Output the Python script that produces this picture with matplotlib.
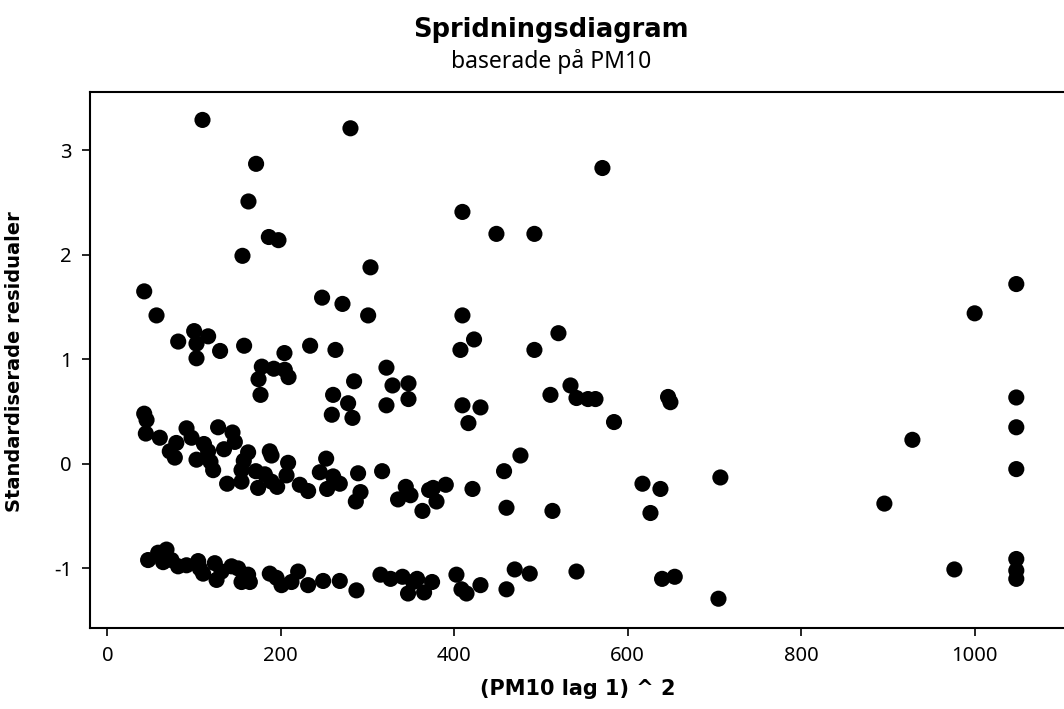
import matplotlib.pyplot as plt

# (PM10 lag 1)^2 and standardised residuals
x_upper = [109.7, 171.5, 162.7, 186.2, 197.3, 155.8, 280.3, 570.8, 409.4, 448.6, 492.4, 303.4,
           42.5, 56.7, 81.7, 100.1, 116.2, 102.8, 102.8, 130.0, 157.7, 204.2, 178.1, 191.9,
           204.6, 208.9, 174.3, 176.6, 247.6, 271.1, 233.8, 263.0, 260.3, 258.8,
           300.7, 409.4, 422.8, 407.1, 492.4, 520.1, 321.8, 284.5, 328.8, 347.2, 347.2,
           321.8, 277.6, 282.6, 409.4, 430.2, 416.3, 510.9, 534.0, 540.9, 554.2, 562.8,
           584.2, 476.3, 646.5, 649.2, 617.0, 637.7, 626.2, 706.8, 928.2, 895.9, 1000.0,
           1048.0, 1048.0, 1048.0, 1048.0]
y_upper = [3.29, 2.87, 2.51, 2.17, 2.14, 1.99, 3.21, 2.83, 2.41, 2.20, 2.20, 1.88,
           1.65, 1.42, 1.17, 1.27, 1.22, 1.15, 1.01, 1.08, 1.13, 1.06, 0.93, 0.91,
           0.90, 0.83, 0.81, 0.66, 1.59, 1.53, 1.13, 1.09, 0.66, 0.47,
           1.42, 1.42, 1.19, 1.09, 1.09, 1.25, 0.92, 0.79, 0.75, 0.77, 0.62,
           0.56, 0.58, 0.44, 0.56, 0.54, 0.39, 0.66, 0.75, 0.63, 0.62, 0.62,
           0.40, 0.08, 0.64, 0.59, -0.19, -0.24, -0.47, -0.13, 0.23, -0.38, 1.44,
           1.72, 0.635, 0.35, -0.05]

x_mid = [42.5, 45.2, 44.4, 60.5, 91.3, 97.1, 127.7, 144.3, 147.0, 79.5, 72.0, 77.8,
         111.4, 116.2, 102.8, 118.9, 122.0, 134.5, 162.3, 157.3, 154.7, 138.1, 154.7,
         187.3, 189.3, 171.2, 181.6, 173.8, 189.3, 195.8, 208.4, 206.6, 221.9, 231.5,
         252.3, 245.0, 260.3, 253.4, 289.1, 316.8, 268.0, 291.9, 286.5, 344.1, 335.2,
         349.5, 363.3, 371.0, 379.5, 375.6, 390.2, 421.0, 457.4, 460.2, 513.2]
y_mid = [0.48, 0.42, 0.29, 0.25, 0.34, 0.25, 0.35, 0.30, 0.21, 0.20, 0.12, 0.06,
         0.19, 0.12, 0.04, 0.02, -0.06, 0.14, 0.11, 0.03, -0.06, -0.19, -0.17,
         0.12, 0.08, -0.07, -0.10, -0.23, -0.17, -0.22, 0.01, -0.11, -0.20, -0.26,
         0.05, -0.08, -0.12, -0.24, -0.09, -0.07, -0.19, -0.27, -0.36, -0.22, -0.34,
         -0.30, -0.45, -0.25, -0.36, -0.23, -0.20, -0.24, -0.07, -0.42, -0.45]

x_low = [47.0, 58.6, 68.2, 64.3, 74.0, 81.6, 91.3, 104.7, 106.6, 110.4, 123.9, 125.9,
         131.6, 143.2, 150.8, 154.7, 162.3, 164.3, 187.3, 195.0, 200.8, 212.3, 220.0,
         231.5, 248.8, 268.0, 287.2, 314.9, 326.5, 340.3, 346.7, 352.5, 357.1, 365.2,
         374.4, 402.5, 408.3, 414.1, 430.2, 469.7, 460.2, 487.0, 540.9, 639.6, 654.2,
         704.6, 976.6, 1048.0, 1048.0, 1048.0]
y_low = [-0.92, -0.85, -0.82, -0.94, -0.92, -0.98, -0.97, -0.93, -1.00, -1.05, -0.95, -1.11,
         -1.03, -0.98, -1.00, -1.13, -1.06, -1.13, -1.05, -1.09, -1.16, -1.13, -1.03,
         -1.16, -1.12, -1.12, -1.21, -1.06, -1.10, -1.08, -1.24, -1.13, -1.10, -1.23,
         -1.13, -1.06, -1.20, -1.24, -1.16, -1.01, -1.20, -1.05, -1.03, -1.10, -1.08,
         -1.29, -1.01, -0.91, -1.02, -1.10]

x_ticks = [0, 200, 400, 600, 800, 1000]
y_ticks = [-1, 0, 1, 2, 3]

xs = x_upper + x_mid + x_low
ys = y_upper + y_mid + y_low

plt.rcParams['font.family'] = ['Noto Sans', 'DejaVu Sans']
bold = ['DejaVu Sans']

fig = plt.figure(figsize=(10.64, 7.09), dpi=100)
ax = fig.add_axes([90 / 1064, 1 - 628 / 709, 1 - 90 / 1064, (628 - 91.7) / 709])

ax.scatter(xs, ys, s=135, color='black', edgecolors='none', zorder=3)

ax.set_xlim(-20, 1103)
ax.set_ylim(-1.57, 3.56)
ax.set_xticks(x_ticks)
ax.set_yticks(y_ticks)
ax.set_xticklabels([str(t) for t in x_ticks])
ax.set_yticklabels([str(t) for t in y_ticks])
ax.tick_params(direction='out', length=6, width=1.2, colors='black', pad=7, labelsize=14.5)

for side in ['left', 'bottom', 'top']:
    ax.spines[side].set_linewidth(1.5)
ax.spines['right'].set_visible(False)

ax.set_xlabel('(PM10 lag 1) ^ 2', fontsize=15, fontweight='bold', family=bold)
ax.set_ylabel('Standardiserade residualer', fontsize=14, fontweight='bold', family=bold)
ax.xaxis.set_label_coords((578 - 90) / (1064 - 90), -0.095)
ax.yaxis.set_label_coords(-0.068, (628 - 362) / (628 - 91.7))

fig.text(551 / 1064, 1 - 30 / 709, 'Spridningsdiagram', ha='center', va='center',
         fontsize=18.5, fontweight='bold', family=bold)
fig.text(551 / 1064, 1 - 62 / 709, 'baserade på PM10', ha='center', va='center',
         fontsize=16.5)

fig.savefig('out.png', dpi=100)
